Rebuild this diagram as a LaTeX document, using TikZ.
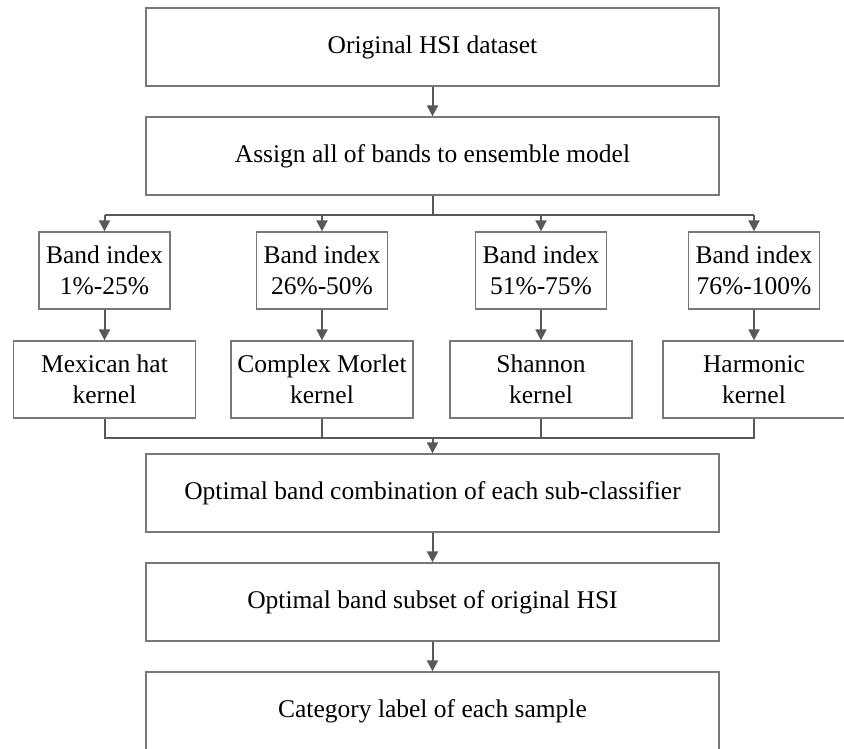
\documentclass[tikz,border=0pt]{standalone}
\usepackage{fontspec}
\setmainfont{Liberation Serif}
\usetikzlibrary{arrows.meta}
\definecolor{linegray}{RGB}{88,88,88}
\definecolor{boxgray}{RGB}{120,120,120}

\begin{document}
\begin{tikzpicture}[x=1pt, y=-1pt,
  font=\fontsize{25.5}{31}\selectfont,
  wide box/.style={draw=boxgray, line width=1.3pt, minimum width=573pt, minimum height=78pt, inner sep=0pt, align=center},
  band box/.style={draw=boxgray, line width=1.3pt, minimum width=131pt, minimum height=77pt, inner sep=0pt, align=center},
  kernel box/.style={draw=boxgray, line width=1.3pt, minimum width=182pt, minimum height=77pt, inner sep=0pt, align=center},
  link/.style={draw=linegray, line width=2pt},
  flow/.style={link, -{Triangle[length=11pt,width=11pt]}}]

\useasboundingbox (0,0) rectangle (844,748);

% main column
\node[wide box] (orig) at (432.5,47) {Original HSI dataset};
\node[wide box] (assign) at (432.5,156) {Assign all of bands to ensemble model};

% sub-spaces of bands
\node[band box] (band1) at (104.5,270.5) {Band index\\1\%-25\%};
\node[band box] (band2) at (322,270.5) {Band index\\26\%-50\%};
\node[band box] (band3) at (541,270.5) {Band index\\51\%-75\%};
\node[band box] (band4) at (754,270.5) {Band index\\76\%-100\%};

% kernels
\node[kernel box] (kern1) at (104.5,379.5) {Mexican hat\\kernel};
\node[kernel box] (kern2) at (322,379.5) {Complex Morlet\\kernel};
\node[kernel box] (kern3) at (541,379.5) {Shannon\\kernel};
\node[kernel box] (kern4) at (754,379.5) {Harmonic\\kernel};

\node[wide box] (comb) at (432.5,493) {Optimal band combination of each sub-classifier};
\node[wide box] (subset) at (432.5,602) {Optimal band subset of original HSI};
\node[wide box] (label) at (432.5,711) {Category label of each sample};

\coordinate (split) at (432.5,215);
\coordinate (merge) at (432.5,438);

\draw[flow] (orig) -- (assign);

\draw[link] (assign) -- (split);
\draw[link] (band1 |- split) -- (band4 |- split);
\draw[flow] (band1 |- split) -- (band1);
\draw[flow] (band2 |- split) -- (band2);
\draw[flow] (band3 |- split) -- (band3);
\draw[flow] (band4 |- split) -- (band4);

\draw[flow] (band1) -- (kern1);
\draw[flow] (band2) -- (kern2);
\draw[flow] (band3) -- (kern3);
\draw[flow] (band4) -- (kern4);

\draw[link] (kern1) -- (kern1 |- merge) -- (kern4 |- merge) -- (kern4);
\draw[link] (kern2) -- (kern2 |- merge);
\draw[link] (kern3) -- (kern3 |- merge);
\draw[flow] (merge) -- (comb);

\draw[flow] (comb) -- (subset);
\draw[flow] (subset) -- (label);

\end{tikzpicture}
\end{document}
